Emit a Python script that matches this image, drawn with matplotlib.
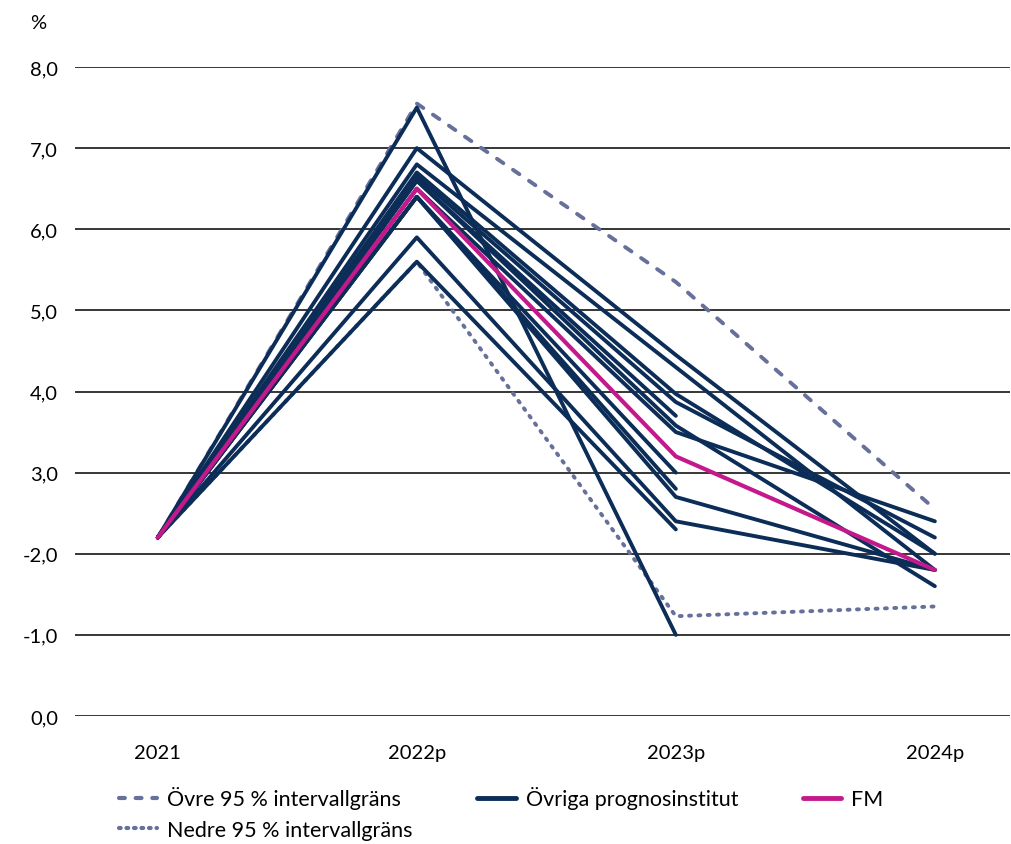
import numpy as np
import matplotlib
matplotlib.use('Agg')
from matplotlib import pyplot as plt

plt.rcParams['font.family'] = ['Lato', 'DejaVu Sans']

# data
years = ['2021', '2022p', '2023p', '2024p']
y_ticks = [0, 1, 2, 3, 4, 5, 6, 7, 8]
y_tick_labels = ['0,0', '-1,0', '-2,0', '3,0', '4,0', '5,0', '6,0', '7,0', '8,0']

upper_95 = [2.2, 7.55, 5.35, 2.55]
lower_95 = [2.2, 5.6, 1.23, 1.35]
fm = [2.2, 6.5, 3.2, 1.8]

# other forecasters (None = no forecast for that year)
others = [
    [2.2, 7.5, 1.0, None],
    [2.2, 7.0, 4.45, 2.0],
    [2.2, 6.8, 4.3, 1.8],
    [2.2, 6.7, 3.97, 2.0],
    [2.2, 6.65, 3.87, 2.2],
    [2.2, 6.6, 3.7, None],
    [2.2, 6.6, 3.58, 1.6],
    [2.2, 6.5, 3.5, 2.4],
    [2.2, 6.4, 3.0, None],
    [2.2, 6.4, 2.8, None],
    [2.2, 6.4, 2.7, 1.8],
    [2.2, 5.9, 2.4, 1.8],
    [2.2, 5.6, 2.3, None],
]

navy = '#0c2d57'
magenta = '#c4198a'
band = '#66709a'

fig = plt.figure(figsize=(10.12, 8.45), dpi=100)
ax = fig.add_axes([0.074, 0.1515, 0.924, 0.768])

x = np.arange(len(years))

for row in others:
    vals = np.array([np.nan if v is None else v for v in row], dtype=float)
    ax.plot(x, vals, color=navy, lw=2.8, solid_capstyle='round', zorder=3)

ax.plot(x, upper_95, color=band, lw=2.8, linestyle=(0, (2.0, 3.0)),
        dash_capstyle='round', zorder=2)
ax.plot(x, lower_95, color=band, lw=2.8, linestyle=(0, (0.5, 1.9)),
        dash_capstyle='round', zorder=2)
ax.plot(x, fm, color=magenta, lw=3.0, solid_capstyle='round', zorder=4)

ax.set_xlim(-0.32, 3.29)
ax.set_ylim(0, 8)
ax.set_xticks(x)
ax.set_xticklabels(years, fontsize=14.5)
ax.set_yticks(y_ticks)
ax.set_yticklabels(y_tick_labels, fontsize=14.5)
ax.tick_params(length=0, pad=12)
ax.tick_params(axis='x', pad=20)
ax.grid(axis='y', color='black', lw=1.1)
ax.set_axisbelow(True)
for s in ax.spines.values():
    s.set_visible(False)

fig.text(0.038, 0.972, '%', fontsize=14.5, ha='center', va='center')

# legend handles
h_up, = ax.plot([], [], color=band, lw=3, linestyle=(0, (1.4, 2.6)), dash_capstyle='round')
h_lo, = ax.plot([], [], color=band, lw=3, linestyle=(0, (0.4, 1.4)), dash_capstyle='round')
h_ot, = ax.plot([], [], color=navy, lw=3.5, solid_capstyle='round')
h_fm, = ax.plot([], [], color=magenta, lw=3.5, solid_capstyle='round')
fig.legend([h_up, h_lo, h_ot, h_fm],
           ['Övre 95 % intervallgräns', 'Nedre 95 % intervallgräns',
            'Övriga prognosinstitut', 'FM'],
           ncol=3, loc='lower left', bbox_to_anchor=(0.098, -0.018),
           frameon=False, fontsize=15.5, handlelength=1.8, handletextpad=0.45,
           columnspacing=3.0, labelspacing=0.5)

fig.savefig('out.png', dpi=100)
